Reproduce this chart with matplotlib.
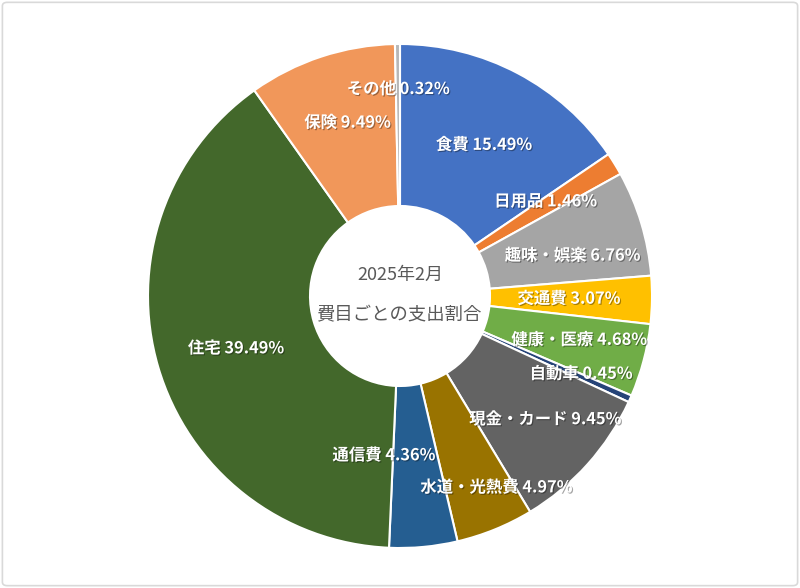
import matplotlib.pyplot as plt
import matplotlib.patheffects as pe
from matplotlib.patches import FancyBboxPatch
import numpy as np

plt.rcParams['font.family'] = ['Noto Sans CJK JP', 'DejaVu Sans']

# data
categories = ['食費', '日用品', '趣味・娯楽', '交通費', '健康・医療', '自動車',
              '現金・カード', '水道・光熱費', '通信費', '住宅', '保険', 'その他']
shares = [15.49, 1.46, 6.76, 3.07, 4.68, 0.45, 9.45, 4.97, 4.36, 39.49, 9.49, 0.32]
colors = ['#4472C4', '#ED7D31', '#A5A5A5', '#FFC000', '#70AD47', '#264478',
          '#636363', '#997300', '#255E91', '#43682B', '#F1975A', '#B7B7B7']
title_lines = ['2025年2月', '費目ごとの支出割合']

# label nudges in pixels (right, up) so the small slices don't collide
nudges = [(4, 0), (0, 5), (9, -9), (-2, 0), (14, 0), (25, -8),
          (18, -9), (32, -33), (-32, 11), (0, -4), (1, 11), (0, 36)]

fig = plt.figure(figsize=(8, 5.88), dpi=100)

# light frame round the chart
frame = FancyBboxPatch((0.003, 0.004), 0.994, 0.992, boxstyle='round,pad=0,rounding_size=0.006',
                       transform=fig.transFigure, facecolor='none', edgecolor='#D9D9D9',
                       linewidth=1.2)
fig.patches.append(frame)

outer = 252 / 800
ax = fig.add_axes([0.5 - outer, (1 - 296 / 588) - 252 / 588, 2 * outer, 504 / 588])
ax.axis('off')

hole = 90 / 252
wedges, _ = ax.pie(shares, colors=colors, startangle=90, counterclock=False, radius=1,
                   wedgeprops=dict(width=1 - hole, edgecolor='white', linewidth=1.5))
ax.set_xlim(-1, 1)
ax.set_ylim(-1, 1)

mid_r = (1 + hole) / 2
shadow = [pe.withSimplePatchShadow(offset=(0.8, -0.8), shadow_rgbFace='black', alpha=0.35)]
for w, name, val, (dx, dy) in zip(wedges, categories, shares, nudges):
    ang = np.deg2rad((w.theta1 + w.theta2) / 2)
    ax.annotate(f'{name} {val:.2f}%', (mid_r * np.cos(ang), mid_r * np.sin(ang)),
                xytext=(dx * 0.72, dy * 0.72), textcoords='offset points',
                ha='center', va='center', color='white', fontsize=11.8, fontweight='bold',
                path_effects=shadow)

ax.text(0, 0.085, title_lines[0], ha='center', va='center', fontsize=13, color='#595959')
ax.text(0, -0.078, title_lines[1], ha='center', va='center', fontsize=13.2, color='#595959')

fig.savefig('out.png', dpi=100)
